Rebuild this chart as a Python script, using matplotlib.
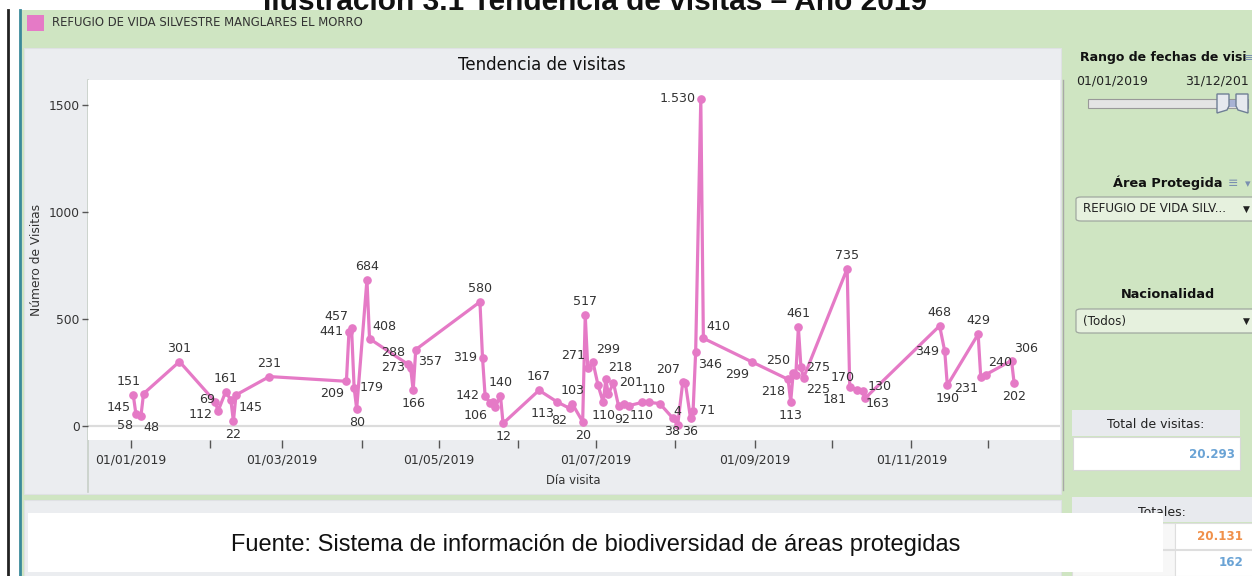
import matplotlib
matplotlib.use("Agg")
import matplotlib.pyplot as plt
import matplotlib.dates as mdates
from matplotlib.patches import Rectangle, Polygon, FancyBboxPatch
from matplotlib.lines import Line2D
import numpy as np
import pandas as pd

# ---------------- data ----------------
dates = ["2019-01-02", "2019-01-03", "2019-01-05", "2019-01-06", "2019-01-20",
         "2019-02-03", "2019-02-04", "2019-02-07", "2019-02-09", "2019-02-10",
         "2019-02-11", "2019-02-24", "2019-03-26", "2019-03-27", "2019-03-28",
         "2019-03-29", "2019-03-30", "2019-04-03", "2019-04-04", "2019-04-19",
         "2019-04-20", "2019-04-21", "2019-04-22", "2019-05-17", "2019-05-18",
         "2019-05-19", "2019-05-21", "2019-05-22", "2019-05-23", "2019-05-25",
         "2019-05-26", "2019-06-09", "2019-06-16", "2019-06-21", "2019-06-22",
         "2019-06-26", "2019-06-27", "2019-06-28", "2019-06-30", "2019-07-02",
         "2019-07-04", "2019-07-05", "2019-07-06", "2019-07-08", "2019-07-10",
         "2019-07-12", "2019-07-14", "2019-07-19", "2019-07-22", "2019-07-26",
         "2019-07-31", "2019-08-02", "2019-08-04", "2019-08-05", "2019-08-07",
         "2019-08-08", "2019-08-09", "2019-08-11", "2019-08-12", "2019-08-31",
         "2019-09-14", "2019-09-15", "2019-09-16", "2019-09-17", "2019-09-18",
         "2019-09-19", "2019-09-20", "2019-10-07", "2019-10-08", "2019-10-11",
         "2019-10-13", "2019-10-14", "2019-11-12", "2019-11-14", "2019-11-15",
         "2019-11-27", "2019-11-28", "2019-11-30", "2019-12-10", "2019-12-11"]
visits = [145, 58, 48, 151, 301,
          112, 69, 161, 121, 22,
          145, 231, 209, 441, 457,
          179, 80, 684, 408, 288,
          273, 166, 357, 580, 319,
          142, 106, 113, 90, 140,
          12, 167, 113, 82, 103,
          20, 517, 271, 299, 190,
          110, 218, 150, 201, 92,
          105, 95, 110, 110, 105,
          38, 4, 207, 200, 36,
          71, 346, 1530, 410, 299,
          218, 113, 250, 240, 461,
          275, 225, 735, 181, 170,
          163, 130, 468, 349, 190,
          429, 231, 240, 306, 202]
# label placement ('' = not labelled)
label_pos = ["bl", "bl", "br", "al", "a",
             "bl", "al", "a", "", "b",
             "br", "a", "bl", "l", "al",
             "r", "b", "a", "ar", "al",
             "l", "b", "br", "a", "l",
             "l", "bl", "", "", "a",
             "b", "a", "bl", "bl", "a",
             "b", "a", "al", "ar", "",
             "b", "ar", "", "r", "b+",
             "", "", "b", "a+", "",
             "b", "a", "al", "", "b",
             "r", "br", "l", "ar", "bl",
             "bl", "b", "al", "", "a",
             "r", "br", "a", "bl", "al",
             "br", "ar", "a", "l", "b",
             "a", "bl", "ar", "ar", "b"]

series_name = "REFUGIO DE VIDA SILVESTRE MANGLARES EL MORRO"
chart_title = "Tendencia de visitas"
y_label = "Número de Visitas"
x_label = "Día visita"
y_ticks = [0, 500, 1000, 1500]
y_tick_labels = ["0", "500", "1000", "1500"]
total_visitas = "20.293"
totales = ["20.131", "162"]

# ---------------- figure ----------------
W, H = 1252, 576
fig = plt.figure(figsize=(W / 100, H / 100), dpi=100, facecolor="white")

PINK = "#e57ac6"
GREEN = "#cfe5c2"
PANEL = "#ebedf0"
TXT = "#333333"
UI = ["DejaVu Sans"]


def R(x0, y0, x1, y1, z=-5, **kw):
    p = Rectangle((x0 / W, 1 - y1 / H), (x1 - x0) / W, (y1 - y0) / H,
                  transform=fig.transFigure, zorder=z, **kw)
    fig.patches.append(p)
    return p


def T(x, y, s, z=6, **kw):
    return fig.text(x / W, 1 - y / H, s, zorder=z, **kw)


def L(xs, ys, z=-4, **kw):
    fig.lines.append(Line2D([x / W for x in xs], [1 - y / H for y in ys],
                            transform=fig.transFigure, zorder=z, **kw))


# cut-off document title at the very top
T(595, 10, "Ilustración 3.1 Tendencia de visitas – Año 2019", z=-10,
  fontsize=21.5, fontweight="bold", family=["Liberation Sans", "DejaVu Sans"],
  ha="center", va="baseline", color="#111111")

# green dashboard background
R(21, 10, W + 2, H + 2, z=-9, facecolor=GREEN, edgecolor="none")
L([8, 8], [10, H], z=-8, color="#222222", lw=2)
L([20, 20], [10, H], z=-8, color="#3a8a9a", lw=2)

# legend
R(27, 15, 44, 31, z=-7, facecolor=PINK, edgecolor="none")
T(52, 23, series_name, fontsize=8.4, family=UI, va="center", ha="left", color=TXT)

# chart panel
R(24, 48, 1061, 494, z=-7, facecolor=PANEL, edgecolor="#dfe1e4", lw=0.8)
T(542, 65, chart_title, fontsize=12, family=UI, ha="center", va="center", color="#111111")
L([1063, 1063], [80, 490], z=-6, color="#a8a8a8", lw=1)
L([88, 88], [80, 492], z=-6, color="#c8d0c8", lw=1.2)

# lower panel (mostly hidden)
R(24, 500, 1061, H + 2, z=-7, facecolor=PANEL, edgecolor="#dfe1e4", lw=0.8)

# ---------------- main axes ----------------
x0px, x1px, y0px, y1px = 88, 1060, 80, 440
ax = fig.add_axes([x0px / W, 1 - y1px / H, (x1px - x0px) / W, (y1px - y0px) / H])
ax.set_facecolor("white")

d = pd.to_datetime(dates)
base = mdates.date2num(pd.Timestamp("2019-01-01"))
px_per_day = 2.568
jan1_px = 130.7
ax.set_xlim(base + (x0px - jan1_px) / px_per_day, base + (x1px - jan1_px) / px_per_day)
px_per_unit = 321 / 1500.0
zero_px = 426
ax.set_ylim((zero_px - y1px) / px_per_unit, (zero_px - y0px) / px_per_unit)

ax.axhline(0, color="#dcdcdc", lw=1.6, zorder=1)
ax.plot(d, visits, color=PINK, lw=2.3, marker="o", ms=5.2, mec=PINK, mfc=PINK,
        zorder=3, solid_joinstyle="round")

offs = {"a": ((0, 5), "center", "bottom"), "b": ((0, -5), "center", "top"),
        "l": ((-4, 0), "right", "center"), "r": ((4, 0), "left", "center"),
        "al": ((-2, 4), "right", "bottom"), "ar": ((2, 4), "left", "bottom"),
        "bl": ((-2, -4), "right", "top"), "br": ((2, -4), "left", "top"),
        "b+": ((2.5, -5), "center", "top"), "a+": ((3, 5), "center", "bottom")}


def fmt(v):
    return f"{v:,}".replace(",", ".")


for xi, v, p in zip(d, visits, label_pos):
    if not p:
        continue
    (dx, dy), ha, va = offs[p]
    ax.annotate(fmt(v), (mdates.date2num(xi), v), xytext=(dx, dy),
                textcoords="offset points", ha=ha, va=va, fontsize=9.1,
                family=UI, color=TXT, zorder=4)

for s in ax.spines.values():
    s.set_visible(False)

ax.set_yticks(y_ticks)
ax.set_yticklabels(y_tick_labels)
ax.tick_params(axis="y", length=4, width=1, color="#555555", pad=2,
               labelsize=8.8, labelcolor=TXT)
for t in ax.get_yticklabels():
    t.set_family(UI)

month_starts = pd.date_range("2019-01-01", "2019-12-01", freq="MS")
ax.set_xticks(month_starts)
ax.set_xticklabels([m.strftime("%d/%m/%Y") if m.month % 2 == 1 else "" for m in month_starts])
ax.tick_params(axis="x", length=6, width=1, color="#555555", pad=4,
               labelsize=8.9, labelcolor=TXT)
for t in ax.get_xticklabels():
    t.set_family(UI)

T(37, 260, y_label, fontsize=8.8, family=UI, rotation=90, ha="center", va="center", color=TXT)
T(573, 481, x_label, fontsize=8.4, family=UI, ha="center", va="center", color=TXT)

# ---------------- right panel ----------------
T(1080, 57, "Rango de fechas de visi", fontsize=9.0, fontweight="bold", family=UI,
  ha="left", va="center", color="#111111")
T(1244, 58, "≡", fontsize=8.5, family=UI, ha="left", va="center", color="#7a8fb0")
T(1076, 81, "01/01/2019", fontsize=9, family=UI, ha="left", va="center", color="#222222")
T(1185, 81, "31/12/201", fontsize=9, family=UI, ha="left", va="center", color="#222222")
R(1088, 99, 1248, 108, z=-6, facecolor="#e4e4e4", edgecolor="#999999", lw=0.8)
R(1226, 100, 1240, 107, z=-5, facecolor="#a8b2d4", edgecolor="none")


def handle(xl, xr, ytop, ybot, tip_left):
    if tip_left:
        pts = [(xl, ytop), (xr, ytop), (xr, ybot), (xl + 2, ybot - 3), (xl, ybot - 7)]
    else:
        pts = [(xl, ytop), (xr, ytop), (xr, ybot - 7), (xr - 2, ybot - 3), (xl, ybot)]
    pts = [(x / W, 1 - y / H) for x, y in pts]
    fig.patches.append(Polygon(pts, closed=True, transform=fig.transFigure,
                               facecolor="#e6e9ef", edgecolor="#6f7f95", lw=1, zorder=-4))


handle(1217, 1229, 94, 113, False)
handle(1236, 1248, 94, 113, True)

T(1168, 183, "Área Protegida", fontsize=9.3, fontweight="bold", family=UI,
  ha="center", va="center", color="#111111")
T(1233, 184, "≡", fontsize=9, family=UI, ha="center", va="center", color="#7a8fb0")
T(1248, 184, "▾", fontsize=8, family=UI, ha="center", va="center", color="#7a8fb0")


def dropdown(y0, y1, text):
    fig.patches.append(FancyBboxPatch((1076 / W, 1 - y1 / H), (185) / W, (y1 - y0) / H,
                                      boxstyle="round,pad=0,rounding_size=0.004",
                                      transform=fig.transFigure, facecolor="#e6f1de",
                                      edgecolor="#a0a8a0", lw=0.9, zorder=-4))
    T(1083, (y0 + y1) / 2, text, fontsize=8.6, family=UI, ha="left", va="center", color="#222222")
    T(1246, (y0 + y1) / 2, "▼", fontsize=6.5, family=UI, ha="center", va="center", color="#222222")


dropdown(197, 221, "REFUGIO DE VIDA SILV...")
T(1168, 295, "Nacionalidad", fontsize=9.3, fontweight="bold", family=UI,
  ha="center", va="center", color="#111111")
dropdown(309, 333, "(Todos)")

# Total de visitas
R(1072, 410, 1240, 436, z=-6, facecolor="#e8eaee", edgecolor="none")
T(1156, 424, "Total de visitas:", fontsize=9, family=UI, ha="center", va="center", color="#222222")
R(1073, 437, 1240, 470, z=-6, facecolor="white", edgecolor="#d8d8d8", lw=0.8)
T(1235, 455, total_visitas, fontsize=8.6, fontweight="bold", family=UI, ha="right",
  va="center", color="#6aa3d5")

# Totales
R(1072, 497, W + 2, 522, z=-6, facecolor="#e8eaee", edgecolor="none")
T(1162, 512, "Totales:", fontsize=9, family=UI, ha="center", va="center", color="#222222")
R(1072, 523, 1175, 549, z=-6, facecolor="#f7f7f7", edgecolor="#dedede", lw=0.8)
R(1072, 550, 1175, 576, z=-6, facecolor="#f7f7f7", edgecolor="#dedede", lw=0.8)
R(1175, 523, W + 2, 549, z=-6, facecolor="white", edgecolor="#dedede", lw=0.8)
R(1175, 550, W + 2, 576, z=-6, facecolor="white", edgecolor="#dedede", lw=0.8)
T(1243, 537, totales[0], fontsize=8.6, fontweight="bold", family=UI, ha="right",
  va="center", color="#f0904a")
T(1243, 563, totales[1], fontsize=8.6, fontweight="bold", family=UI, ha="right",
  va="center", color="#6aa3d5")

# caption box (pasted over the dashboard)
R(28, 513, 1163, 572, z=8, facecolor="white", edgecolor="none")
T(596, 545, "Fuente: Sistema de información de biodiversidad de áreas protegidas",
  z=9, fontsize=17, family=["Liberation Sans", "DejaVu Sans"], ha="center", va="center",
  color="#111111")

fig.savefig("out.png", dpi=100, facecolor="white")
